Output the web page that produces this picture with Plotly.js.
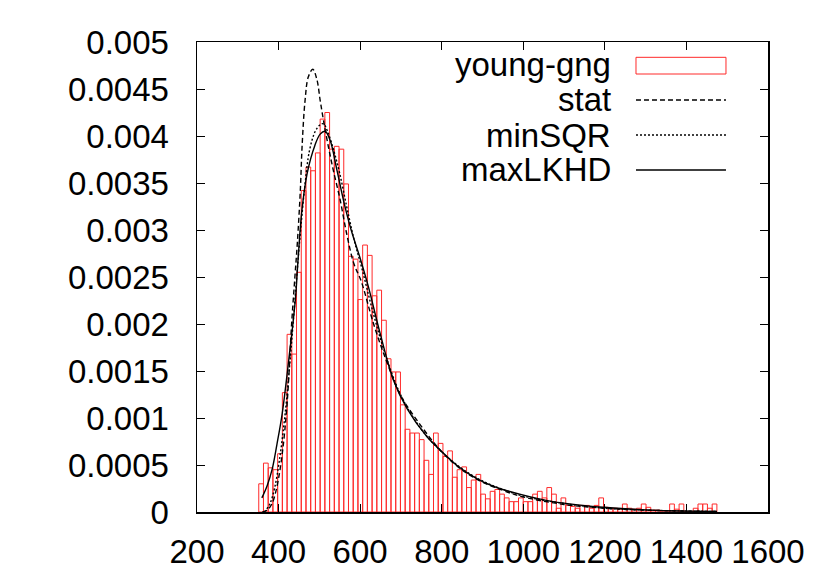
<!DOCTYPE html>
<html>
<head>
<meta charset="utf-8">
<script src="https://cdn.plot.ly/plotly-3.0.1.min.js"></script>
<style>
  body { margin: 0; background: #ffffff; }
  #plot { width: 830px; height: 581px; }
</style>
</head>
<body>
<div id="plot"></div>
<script>
// histogram bins (young-gng)
const binStart = 351.4;
const binWidth = 11.58;
const barHeights = [
    0.00030, 0.00052, 0.00047, 0.00045, 0.00062, 0.00127, 0.00189, 0.00168, 0.00255, 0.00342,
    0.00367, 0.00363, 0.00382, 0.00418, 0.00425, 0.00386, 0.00389, 0.00386, 0.00349, 0.00272,
    0.00269, 0.00226, 0.00284, 0.00273, 0.00230, 0.00236, 0.00204, 0.00163, 0.00149, 0.00149,
    0.00114, 0.00088, 0.00084, 0.00084, 0.00077, 0.00055, 0.00040, 0.00084, 0.00073, 0.00059,
    0.00065, 0.00037, 0.00045, 0.00048, 0.00026, 0.00034, 0.00040, 0.00019, 0.00014, 0.00022,
    0.00024, 0.00019, 0.00015, 0.00011, 0.00011, 0.00015, 0.00011, 0.00011, 0.00019, 0.00022,
    0.00015, 0.00026, 0.00019, 0.00004, 0.00015, 0.00007, 0.00006, 0.00004, 0.00007, 0.00007,
    0.00004, 0.00007, 0.00015, 0.00005, 0.00004, 0.00004, 0.00003, 0.000085, 0.00004, 0.00003,
    0.00004, 0.000085, 0.00005, 0.00002, 0.00002, 0, 0, 0.000085, 0.00003, 0.000085,
    0, 0, 0.00004, 0.000085, 0.000085, 0.00004, 0.000085
];

// fitted curves
const statX = [360, 372, 384, 396, 409, 421, 432, 440, 446, 453, 458, 465, 473, 484, 494, 502, 510, 522, 534, 551, 567, 584, 603, 633, 665, 698, 747, 796, 840, 890, 950, 1000, 1100, 1200, 1300, 1400, 1475];
const statY = [0, 0.00002, 0.00009, 0.00027, 0.00062, 0.00116, 0.00200, 0.0025, 0.00286, 0.00339, 0.00392, 0.00438, 0.00463, 0.00471, 0.0046, 0.00438, 0.00417, 0.00389, 0.00364, 0.00332, 0.00296, 0.00265, 0.00245, 0.00200, 0.0016, 0.00125, 0.00093, 0.00066, 0.00048, 0.00034, 0.00023, 0.00016, 0.00008, 0.00004, 0.00002, 0.00001, 0.000005];

const minSqrX = [365, 378, 390, 402, 415, 428, 440, 452, 464, 476, 490, 502, 510, 520, 535, 550, 567, 585, 605, 630, 660, 700, 750, 800, 850, 900, 950, 1000, 1100, 1200, 1300, 1475];
const minSqrY = [0, 0.00008, 0.00025, 0.00055, 0.00100, 0.00160, 0.00225, 0.00290, 0.00345, 0.00385, 0.00405, 0.00412, 0.00413, 0.00405, 0.00385, 0.00360, 0.00325, 0.00290, 0.00258, 0.00215, 0.00170, 0.00124, 0.00088, 0.00064, 0.00046, 0.00033, 0.00024, 0.00017, 0.00009, 0.00004, 0.00002, 0.000005];

const maxLkhdX = [359, 372, 384, 396, 409, 425, 441, 448, 457, 470, 489, 502, 514, 526, 543, 560, 578, 600, 620, 649, 682, 715, 764, 796, 839, 888, 929, 991, 1073, 1196, 1312, 1475];
const maxLkhdY = [0.00015, 0.00028, 0.00045, 0.00072, 0.00105, 0.00162, 0.00225, 0.0027, 0.0032, 0.0036, 0.0039, 0.00402, 0.00405, 0.00396, 0.00364, 0.0033, 0.0030, 0.0027, 0.0024, 0.00190, 0.0014, 0.00110, 0.0008, 0.00066, 0.00049, 0.00035, 0.00027, 0.00019, 0.00011, 0.00005, 0.00002, 0.000005];

const xTicks = [200, 400, 600, 800, 1000, 1200, 1400, 1600];
const yTicks = [0, 0.0005, 0.001, 0.0015, 0.002, 0.0025, 0.003, 0.0035, 0.004, 0.0045, 0.005];
const yTickText = ['0', '0.0005', '0.001', '0.0015', '0.002', '0.0025', '0.003', '0.0035', '0.004', '0.0045', '0.005'];

const legendNames = ['young-gng', 'stat', 'minSQR', 'maxLKHD'];

const FONT = '"Liberation Sans", Arial, sans-serif';

const barCenters = barHeights.map((_, i) => binStart + binWidth * (i + 0.5));

const histTrace = {
    type: 'bar',
    x: barCenters,
    y: barHeights,
    width: binWidth,
    marker: {color: 'rgba(255,255,255,0)', line: {color: '#ff2a2a', width: 1}},
    name: legendNames[0]
};

const statTrace = {
    x: statX, y: statY, mode: 'lines', name: legendNames[1],
    line: {color: '#000', width: 1.4, dash: '5px,3px', shape: 'spline'}
};

const minSqrTrace = {
    x: minSqrX, y: minSqrY, mode: 'lines', name: legendNames[2],
    line: {color: '#000', width: 1.4, dash: '2px,2px', shape: 'spline'}
};

const maxLkhdTrace = {
    x: maxLkhdX, y: maxLkhdY, mode: 'lines', name: legendNames[3],
    line: {color: '#000', width: 1.4, shape: 'spline'}
};

// gnuplot style key: text on the left, sample on the right
const rowY = [0.9511, 0.8766, 0.8021, 0.7277];
const annotations = legendNames.map((name, i) => ({
    xref: 'paper', yref: 'paper', x: 0.7286, y: rowY[i],
    xanchor: 'right', yanchor: 'middle', showarrow: false,
    text: name, font: {family: FONT, size: 33, color: '#000'}
}));

const shapes = [
    {type: 'rect', xref: 'paper', yref: 'paper', x0: 0.7688, x1: 0.9264, y0: 0.9319, y1: 0.9674,
     line: {color: '#ff2a2a', width: 1}, fillcolor: 'rgba(0,0,0,0)'},
    {type: 'line', xref: 'paper', yref: 'paper', x0: 0.7688, x1: 0.9264, y0: rowY[1], y1: rowY[1],
     line: {color: '#000', width: 1.4, dash: '5px,3px'}},
    {type: 'line', xref: 'paper', yref: 'paper', x0: 0.7688, x1: 0.9264, y0: rowY[2], y1: rowY[2],
     line: {color: '#000', width: 1.4, dash: '2px,2px'}},
    {type: 'line', xref: 'paper', yref: 'paper', x0: 0.7688, x1: 0.9264, y0: rowY[3], y1: rowY[3],
     line: {color: '#000', width: 1.4}}
];

const layout = {
    width: 830,
    height: 581,
    margin: {l: 197, r: 62, t: 42, b: 69},
    paper_bgcolor: '#ffffff',
    plot_bgcolor: '#ffffff',
    showlegend: false,
    bargap: 0,
    font: {family: FONT, size: 33, color: '#000'},
    xaxis: {
        range: [200, 1600],
        tickvals: xTicks,
        ticks: 'inside', ticklen: 8, tickwidth: 1, tickcolor: '#000',
        showline: true, linecolor: '#000', linewidth: 1.5, mirror: 'ticks',
        showgrid: false, zeroline: false,
        ticklabelstandoff: 10,
        tickfont: {family: FONT, size: 33, color: '#000'}
    },
    yaxis: {
        range: [0, 0.005],
        tickvals: yTicks,
        ticktext: yTickText,
        ticks: 'inside', ticklen: 8, tickwidth: 1, tickcolor: '#000',
        showline: true, linecolor: '#000', linewidth: 1.5, mirror: 'ticks',
        showgrid: false, zeroline: false,
        ticklabelstandoff: 20,
        tickfont: {family: FONT, size: 33, color: '#000'}
    },
    annotations: annotations,
    shapes: shapes
};

Plotly.newPlot('plot', [histTrace, statTrace, minSqrTrace, maxLkhdTrace], layout, {staticPlot: true});
</script>
</body>
</html>
